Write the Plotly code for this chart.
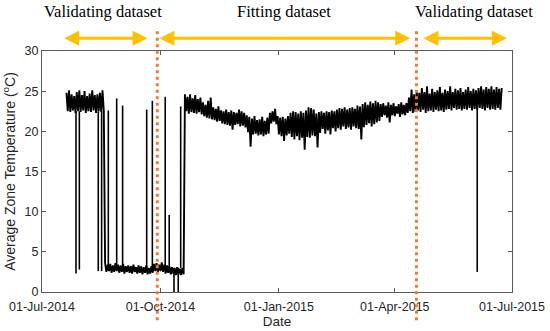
import pandas as pd
import plotly.graph_objects as go

# ---------------- data ----------------
series_start = "2014-07-20"   # first sample, one sample per day (alternating daily high / low)

seg_summer_2014 = [24.8, 22.5, 25.1, 22.4, 24.6, 22.6, 24.4, 22.3, 24.9, 22.5,
                   25.1, 22.4, 24.5, 22.6, 25.0, 22.3, 24.4, 22.5, 24.7, 22.4,
                   25.1, 22.6, 24.5, 22.3, 24.6, 22.5, 24.8, 22.4, 25.1, 22.5]

seg_low = [3.6, 2.5, 3.4, 2.6, 3.5, 2.4, 3.3, 2.5, 3.6, 2.6,
           3.4, 2.4, 3.3, 2.5, 3.5, 2.3, 3.2, 2.5, 3.3, 2.4,
           3.2, 2.3, 3.4, 2.5, 3.1, 2.3, 3.3, 2.4, 3.2, 2.2,
           3.1, 2.4, 3.3, 2.2, 3.0, 2.3, 3.2, 2.4, 3.5, 2.6,
           3.6, 2.5, 3.4, 2.6, 3.7, 2.5, 3.4, 2.3, 3.3, 2.4,
           3.2, 2.2, 3.1, 2.3, 3.0, 2.1, 3.1, 2.2, 2.9, 2.1,
           3.0, 2.2]

seg_main = [24.6, 22.5, 24.3, 22.2, 24.6, 22.4, 24.1, 22.3, 24.5, 22.2,
            24.0, 22.4, 24.2, 22.1, 23.6, 21.9, 23.3, 21.7, 23.8, 21.6,
            24.2, 21.5, 23.0, 21.4, 22.8, 21.2, 23.1, 21.3, 22.6, 21.0,
            22.5, 20.9, 22.7, 20.8, 22.4, 20.7, 22.6, 20.2, 22.4, 20.8,
            22.3, 20.9, 22.7, 20.6, 22.5, 20.7, 22.3, 20.5, 22.0, 19.9,
            21.8, 18.1, 21.6, 19.6, 21.9, 19.7, 21.4, 19.5, 21.5, 19.6,
            21.8, 19.4, 21.3, 19.6, 21.7, 19.7, 22.3, 21.0, 22.5, 21.2,
            22.8, 20.9, 21.9, 19.6, 21.7, 19.4, 21.8, 18.8, 21.6, 19.5,
            21.9, 19.7, 22.3, 19.3, 22.5, 19.0, 22.4, 19.4, 22.2, 18.9,
            22.5, 19.2, 22.3, 17.7, 22.6, 19.3, 23.0, 19.2, 22.9, 19.5,
            22.7, 19.4, 22.2, 18.0, 22.4, 19.8, 22.5, 20.3, 22.3, 19.7,
            22.5, 20.1, 22.4, 19.6, 22.6, 20.4, 22.5, 20.0, 22.7, 20.4,
            22.9, 20.2, 22.8, 20.6, 23.0, 20.3, 22.7, 20.5, 22.9, 20.2,
            23.0, 20.6, 22.8, 20.4, 23.2, 20.3, 23.1, 19.0, 23.4, 20.5,
            23.6, 20.8, 23.3, 21.0, 23.7, 20.6, 23.5, 20.9, 23.8, 21.1,
            23.6, 21.3, 23.4, 21.8, 23.5, 22.0, 23.2, 21.7, 23.6, 21.1,
            23.3, 22.0, 23.5, 21.9, 23.1, 22.2, 23.4, 21.8, 23.6, 22.1,
            23.3, 22.0, 23.5, 22.3, 24.2, 22.5, 25.2, 22.3, 24.6, 22.4,
            25.0, 22.6, 24.8, 22.4, 25.4, 22.7, 24.9, 22.3, 25.6, 22.5,
            24.7, 22.6, 25.3, 22.4, 24.9, 22.7, 25.1, 22.5, 25.5, 22.6,
            24.8, 22.4, 25.2, 22.7, 25.0, 22.8, 25.6, 22.6, 24.9, 22.9,
            25.3, 22.7, 25.1, 22.8, 25.4, 22.6, 24.9, 22.8, 25.2, 22.7,
            25.5, 22.9, 25.0, 22.6, 25.3, 22.8, 25.1, 22.7, 25.4, 22.9,
            25.6, 22.8, 25.2, 22.6, 25.5, 22.9, 25.3, 22.7, 25.6, 22.8,
            25.2, 22.7, 25.5, 22.9, 25.3, 22.7, 25.4]

# isolated spikes: day offset from 01-Jul-2014, level before, spike value
spike_day  = [26.4, 29.0, 43.7, 46.3, 51.5, 58.0, 62.6, 81.3, 85.7, 95.7, 98.8, 102.5, 105.8, 107.7, 338.0]
spike_base = [22.5, 22.5, 22.5, 22.5, 3.0, 3.0, 3.0, 3.0, 3.0, 3.0, 3.0, 3.0, 3.0, 3.0, 23.0]
spike_tip  = [2.3, 2.8, 2.6, 2.6, 22.6, 24.1, 23.2, 22.7, 23.8, 24.3, 9.6, 0.0, 0.0, 23.1, 2.5]

split_dates = ["2014-09-28 12:00", "2015-04-17 19:00"]

arrow_spans = [("2014-07-17", "2014-09-21"),
               ("2014-09-29", "2015-04-13"),
               ("2015-04-22", "2015-06-27")]
period_labels = ["Validating dataset", "Fitting dataset", "Validating dataset"]
period_label_x = [0.130, 0.514, 0.920]

tick_dates = ["2014-07-01", "2014-10-01", "2015-01-01", "2015-04-01", "2015-07-01"]
tick_text = ["01-Jul-2014", "01-Oct-2014", "01-Jan-2015", "01-Apr-2015", "01-Jul-2015"]

# ---------------- figure ----------------
values = seg_summer_2014 + seg_low + seg_main
x_main = pd.date_range(series_start, periods=len(values), freq="D")

origin = pd.Timestamp("2014-07-01")
sx, sy = [], []
for d, b, t in zip(spike_day, spike_base, spike_tip):
    ts = origin + pd.to_timedelta(d, unit="D")
    sx += [ts, ts, None]
    sy += [b, t, None]

fig = go.Figure()
fig.add_trace(go.Scatter(x=x_main, y=values, mode="lines",
                         line=dict(color="black", width=1.9), hoverinfo="skip"))
fig.add_trace(go.Scatter(x=sx, y=sy, mode="lines",
                         line=dict(color="black", width=1.6), hoverinfo="skip"))

for d in split_dates:
    fig.add_shape(type="line", xref="x", yref="paper", x0=d, x1=d, y0=-0.117, y1=1.09,
                  line=dict(color="#ED7D31", width=3, dash="3px,3.5px"), layer="above")

for (a, b) in arrow_spans:
    fig.add_annotation(xref="x", yref="paper", axref="x", ayref="pixel",
                       x=b, y=1.053, ax=a, ay=0, text="", showarrow=True,
                       arrowside="end+start", arrowhead=2, startarrowhead=2,
                       arrowsize=1.0, startarrowsize=1.0,
                       arrowwidth=3, arrowcolor="#FFC000")

for lab, px in zip(period_labels, period_label_x):
    fig.add_annotation(xref="paper", yref="paper", x=px, y=1.165, text=lab,
                       showarrow=False, xanchor="center", yanchor="middle",
                       font=dict(family="Liberation Serif, Times New Roman, serif",
                                 size=16.5, color="black"))

axis_common = dict(showline=True, linecolor="#5a5a5a", linewidth=1, mirror="ticks",
                   ticks="inside", ticklen=4, tickcolor="#5a5a5a", showgrid=False,
                   zeroline=False, automargin=False,
                   tickfont=dict(family="Liberation Sans, Arial, sans-serif", size=12.5, color="#262626"))

fig.update_layout(
    width=550, height=331,
    margin=dict(l=42, r=38, t=51, b=39),
    paper_bgcolor="white", plot_bgcolor="white",
    showlegend=False,
    xaxis=dict(type="date", range=["2014-07-01", "2015-07-01"],
               tickvals=tick_dates, ticktext=tick_text, ticklabelstandoff=3,
               title=dict(text="Date", standoff=2,
                          font=dict(family="Liberation Sans, Arial, sans-serif", size=13.5, color="#262626")),
               **axis_common),
    yaxis=dict(range=[0, 30], tick0=0, dtick=5,
               title=dict(text="Average Zone Temperature (<sup>o</sup>C)", standoff=6,
                          font=dict(family="Liberation Sans, Arial, sans-serif", size=14, color="#262626")),
               **axis_common),
)

fig.write_html("out.html", config={"displayModeBar": False},
               post_script="document.body.style.margin='0';")
